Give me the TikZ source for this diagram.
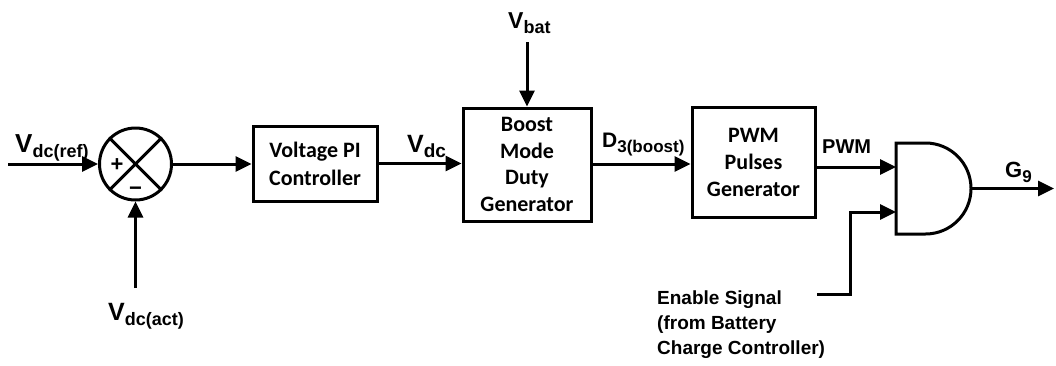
\documentclass[tikz,border=0pt]{standalone}
\usepackage{fontspec}
\setmainfont{Liberation Sans}
\newfontfamily\boxfont{Carlito}
\usetikzlibrary{arrows.meta,calc}
\newcommand\sig[4]{{\fontsize{#1}{#1}\selectfont #3}\raisebox{-5pt}{\fontsize{#2}{#2}\selectfont #4}}
\begin{document}
\begin{tikzpicture}[x=1pt,y=-1pt,
  wire/.style={line width=3pt},
  arr/.style={line width=3pt,-{Triangle[length=16pt,width=15pt]}},
  blk/.style={draw,line width=3pt,align=center,inner sep=0pt,
    font=\boxfont\bfseries\fontsize{22}{26.5}\selectfont},
  lab/.style={inner sep=0pt,anchor=base west,font=\bfseries},
]
\useasboundingbox (0,0) rectangle (1056,365);
% summing junction
\node[draw,circle,line width=3pt,minimum size=72pt,inner sep=0pt] (sum) at (135.5,164) {};
\draw[line width=3pt] (sum.north west) -- (sum.south east);
\draw[line width=3pt] (sum.south west) -- (sum.north east);
\node[inner sep=0pt,font=\bfseries\fontsize{22}{22}\selectfont] (plus) at (117,165.5) {+};
\node[inner sep=0pt,font=\bfseries\fontsize{22}{22}\selectfont] (minus) at (135.5,191) {\textminus};
% blocks
\node[blk,minimum width=124pt,minimum height=75pt,font=\boxfont\bfseries\fontsize{22}{28}\selectfont] (pi) at (315,163.5) {Voltage PI\\Controller};
\node[blk,minimum width=128pt,minimum height=113pt] (boost) at (527,164.5) {Boost\\Mode\\Duty\\Generator};
\node[blk,minimum width=123pt,minimum height=110pt,font=\boxfont\bfseries\fontsize{22}{27}\selectfont] (pwm) at (753.5,162) {PWM\\Pulses\\Generator};
% AND gate
\draw[line width=3pt] (896,143) -- (925.5,143) arc[start angle=-90,end angle=90,radius=45.5] -- (896,234) -- cycle;
\coordinate (gin1) at (896,167);
\coordinate (gin2) at (896,212);
\coordinate (gout) at (971,188.5);
% inputs / outputs
\coordinate (refin) at (8,164);
\coordinate (actin) at (135.5,288);
\coordinate (batin) at (527,42);
\coordinate (gend) at (1054,188.5);
\coordinate (enst) at (817,294);
\coordinate (encorner) at (850,294);
\draw[arr] (refin) -- (sum.west);
\draw[arr] (actin) -- (sum.south);
\draw[arr] (sum.east) -- (pi.west |- sum.east);
\draw[arr] (pi.east) -- (boost.west |- pi.east);
\draw[arr] (batin) -- (boost.north);
\draw[arr] (boost.east |- 0,164) -- (pwm.west |- 0,164);
\draw[arr] (pwm.east |- gin1) -- (gin1);
\draw[arr] (enst) -- (encorner) |- (gin2);
\draw[arr] (gout) -- (gend);
% labels
\node[lab] (lref) at (15,152) {\sig{26}{18}{V}{dc(ref)}};
\node[lab] (lact) at (108,320) {\sig{25}{18}{V}{dc(act)}};
\node[lab] (lbat) at (508,28) {\sig{23}{18}{V}{bat}};
\node[lab] (ldc) at (407,152) {\sig{25}{19}{V}{dc}};
\node[lab] (ld3) at (602,147) {\sig{21}{17}{D}{3(boost)}};
\node[lab,font=\bfseries\fontsize{20}{20}\selectfont] (lpwm) at (822,153) {PWM};
\node[lab] (lg9) at (1005,177) {\sig{22}{17}{G}{9}};
\node[lab,align=left,anchor=north west,font=\bfseries\fontsize{19}{25}\selectfont] (len) at (657,291)
  {Enable Signal\\(from Battery\\Charge Controller)};
\end{tikzpicture}
\end{document}
